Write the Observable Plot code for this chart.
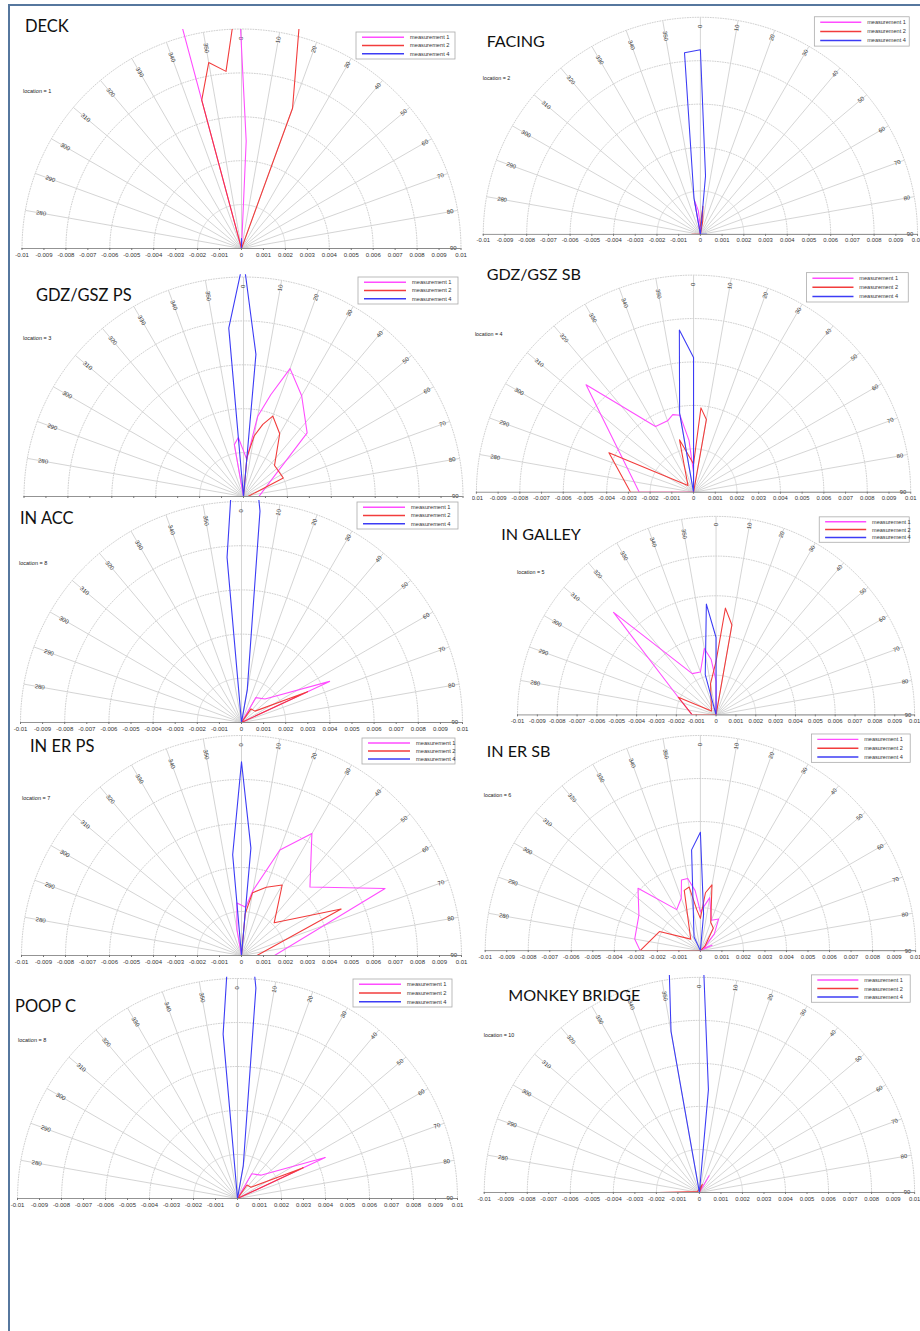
<!DOCTYPE html>
<html><head><meta charset="utf-8">
<script src="https://cdn.jsdelivr.net/npm/d3@7"></script>
<script src="https://cdn.jsdelivr.net/npm/@observablehq/plot@0.6"></script>
<style>
html,body{margin:0;padding:0;background:#fff;overflow:hidden;}
#page{position:relative;width:920px;height:1331px;overflow:hidden;background:#fff;}
.panel{position:absolute;opacity:0.999;}
.panel svg{display:block;}
.frame{position:absolute;background:#56779e;z-index:50;}
</style></head><body><div id="page"></div>
<script>
// ---------- data ----------
const series = ["measurement 1", "measurement 2", "measurement 4"];
const seriesColors = ["#ff4dff", "#f23c3c", "#3c3cf5"];
const radialAngles = [280, 290, 300, 310, 320, 330, 340, 350, 0, 10, 20, 30, 40, 50, 60, 70, 80, 90];
const ringRadii = [0.002, 0.004, 0.006, 0.008, 0.01];
const xTicks = [-0.01, -0.009, -0.008, -0.007, -0.006, -0.005, -0.004, -0.003, -0.002, -0.001, 0,
  0.001, 0.002, 0.003, 0.004, 0.005, 0.006, 0.007, 0.008, 0.009, 0.01];
const titles = ["DECK", "GDZ/GSZ PS", "IN ACC", "IN ER PS", "POOP C", "FACING", "GDZ/GSZ SB", "IN GALLEY", "IN ER SB", "MONKEY BRIDGE"];
const locations = [1, 3, 8, 7, 8, 2, 4, 5, 6, 10];

// [angle in degrees, magnitude]
const deckM1 = [[340,0],[345,0.0165],[358,0.03],[2.5,0.0049],[10,0]];
const deckM2 = [[330,0],[345,0.007],[350,0.0086],[355,0.0081],[0,0.0129],[10,0.0192],[20,0.0068],[30,0]];
const deckM4 = [[350,0],[0,0.00045],[10,0]];

const facingM1 = [[340,0],[350,0.0016],[355,0.0011],[5,0.0002],[20,0]];
const facingM2 = [[270,0.0004],[300,0],[350,0.0003],[0,0.0004],[5,0.0013],[10,0.0006],[20,0]];
const facingM4 = [[340,0],[350,0.0017],[355,0.0084],[0,0.0085],[5,0.0027],[15,0],[90,0.0003]];

const gdzPsM1 = [[340,0],[350,0.0024],[355,0.0027],[5,0.0017],[10,0.0037],[15,0.0048],[20,0.0062],[30,0.0053],[45,0.0041],[90,0.0007]];
const gdzPsM2 = [[350,0],[5,0.0018],[10,0.0028],[15,0.0034],[20,0.0039],[30,0.0033],[45,0.002],[65,0.002],[90,0.0002]];
const gdzPsM4 = [[340,0],[355,0.0077],[0,0.0108],[5,0.0065],[15,0]];

const gdzSbM1 = [[270,0],[270,0.0025],[315,0.007],[330,0.0035],[340,0.0035],[345,0.0037],[350,0.0036],[355,0.0024],[0,0.0009],[10,0]];
const gdzSbM2 = [[270,0],[270,0.0029],[295,0.0043],[320,0.0004],[345,0.0025],[0,0.0013],[5,0.0039],[10,0.0034],[20,0]];
const gdzSbM4 = [[340,0],[350,0.0037],[355,0.0075],[0,0.0062],[10,0]];

const loc8M1 = [[20,0],[30,0.0013],[45,0.0015],[65,0.0044],[75,0]];
const loc8M2 = [[20,0],[35,0.00075],[50,0.0008],[65,0.0033],[75,0]];
const loc8M4 = [[345,0],[355,0.0075],[0,0.018],[5,0.0096],[10,0.0015],[20,0]];

const galleyM1 = [[270,0.0012],[295,0.0021],[315,0.0073],[330,0.0024],[340,0.0023],[350,0.0034],[355,0.0028],[0,0.0017],[10,0]];
const galleyM2 = [[270,0],[270,0.0012],[295,0.0021],[310,0.0003],[350,0.0016],[0,0.0027],[5,0.0054],[10,0.0046],[20,0]];
const galleyM4 = [[335,0],[345,0.0021],[355,0.0056],[0,0.0039],[10,0]];

const erPsM1 = [[340,0],[350,0.0012],[355,0.0024],[5,0.0022],[10,0.003],[20,0.0051],[30,0.0064],[45,0.0044],[65,0.0072],[90,0.0015]];
const erPsM2 = [[350,0],[5,0.0019],[10,0.0029],[20,0.0033],[30,0.0037],[45,0.0021],[65,0.005],[90,0.0007]];
const erPsM4 = [[345,0],[355,0.0046],[0,0.0088],[5,0.0049],[15,0]];

const erSbM1 = [[270,0.0028],[280,0.0031],[300,0.0033],[315,0.0041],[330,0.0022],[340,0.0026],[345,0.0034],[350,0.0034],[355,0.0028],[0,0.0018],[10,0.0025],[20,0.0015],[30,0.0017],[40,0.001],[55,0.0002],[65,0.0006],[80,0]];
const erSbM2 = [[270,0],[270,0.0028],[295,0.0021],[320,0.0007],[345,0.0029],[350,0.003],[355,0.0019],[0,0.0015],[5,0.0027],[10,0.0031],[20,0.0014],[30,0.0012],[45,0.0003],[60,0]];
const erSbM4 = [[320,0],[335,0.0007],[355,0.0047],[0,0.0055],[5,0.0017],[15,0]];

const monkeyM1 = [[20,0],[30,0.0009],[40,0]];
const monkeyM2 = [[270,0],[270,0.0019],[300,0.0001],[20,0.0004],[35,0]];
const monkeyM4 = [[340,0],[350,0.0076],[355,0.019],[0,0.0154],[5,0.0048],[15,0]];

const panelSeries = [
  [deckM1, deckM2, deckM4],
  [gdzPsM1, gdzPsM2, gdzPsM4],
  [loc8M1, loc8M2, loc8M4],
  [erPsM1, erPsM2, erPsM4],
  [loc8M1, loc8M2, loc8M4],
  [facingM1, facingM2, facingM4],
  [gdzSbM1, gdzSbM2, gdzSbM4],
  [galleyM1, galleyM2, galleyM4],
  [erSbM1, erSbM2, erSbM4],
  [monkeyM1, monkeyM2, monkeyM4]
];

// ---------- layout (page pixels) ----------
// [left, top, width, height, centerX, baselineY, pxPerUnit, yTop]
const layout = [
  [10, 6, 460, 258, 241, 248, 21950, 0.00998],
  [10, 263, 460, 250, 243, 496, 21950, 0.0101],
  [10, 499, 460, 237, 241, 722, 22100, 0.01005],
  [10, 733, 460, 236, 241, 955, 22000, 0.01004],
  [10, 969, 460, 245, 237, 1198, 22000, 0.01006],
  [472, 6, 458, 250, 705, 239, 22200, 0.0101],
  [472, 257, 458, 254, 698, 497, 22200, 0.0101],
  [472, 510, 458, 224, 721, 719, 20300, 0.0101],
  [472, 733, 458, 234, 705, 955, 22000, 0.01006],
  [472, 969, 458, 245, 704, 1197, 22000, 0.01009]
];
const titlePos = [[25,32],[36,301],[20,524],[30,752],[15,1012],[487,48],[487,281],[502,541],[487,758],[509,1002]];
const locPos = [[23,93],[23,340],[19,565],[22,800],[18,1042],[483,82],[475,338],[518,575],[484,798],[484,1039]];
const legendBox = [[356,32,455,59],[358,277,458,304],[357,502,458,529],[362,738,455,764],[353,979,452,1007],
  [822,17,919,47],[814,273,918,303],[827,517,919,543],[819,734,920,763],[819,975,920,1003]];

const rad = a => a * Math.PI / 180;
const px = (r, a) => r * Math.sin(rad(a));
const py = (r, a) => r * Math.cos(rad(a));

const arcRows = [];
for (const r of ringRadii) for (let a = -90; a <= 90; a += 2) arcRows.push({r, x: px(r, a), y: py(r, a)});
const innerArc = arcRows.filter(d => d.r === ringRadii[0]);
const outerArcs = arcRows.filter(d => d.r !== ringRadii[0]);

const pageEl = document.getElementById("page");
const fmt = d => String(Math.round(d * 1000) / 1000);
const labelFont = "'Liberation Sans', Arial, sans-serif";

panelSeries.forEach((ser, i) => {
  const [L, T, W, H, cx, by, k, ytop] = layout[i];
  const rows = [];
  ser.forEach((pts, s) => pts.forEach(([a, r]) => rows.push({series: series[s], x: px(r, a), y: py(r, a)})));
  const ml = cx - 0.01 * k - L;
  const mr = (L + W) - (cx + 0.01 * k);
  const mt = by - ytop * k - T;
  const mb = T + H - by;
  const svg = Plot.plot({
    width: W, height: H,
    marginLeft: ml, marginRight: mr, marginTop: mt, marginBottom: mb,
    x: {domain: [-0.01, 0.01], axis: null},
    y: {domain: [0, ytop], axis: null},
    color: {domain: series, range: seriesColors},
    style: {background: "#fff", fontFamily: labelFont, overflow: "hidden"},
    marks: [
      Plot.line(innerArc, {x: "x", y: "y", z: "r", stroke: "#d6d6d6", strokeWidth: 0.8}),
      Plot.line(outerArcs, {x: "x", y: "y", z: "r", stroke: "#c4c4c4", strokeWidth: 0.8, strokeDasharray: "1,1.6"}),
      Plot.link(radialAngles, {x1: () => 0, y1: () => 0, x2: a => px(0.01, a), y2: a => py(0.01, a), stroke: "#cfcfcf", strokeWidth: 0.9}),
      Plot.text(radialAngles, {x: a => px(0.0095, a), y: a => py(0.0095, a), text: a => String(a),
        rotate: a => a >= 270 ? a - 270 : a - 90, textAnchor: "start", lineAnchor: "middle", fontSize: 6, fill: "#333"}),
      Plot.ruleY([0], {stroke: "#777", strokeWidth: 0.8}),
      Plot.axisX(xTicks, {anchor: "bottom", tickFormat: fmt, fontSize: 6, tickSize: 2, tickPadding: 2, label: null, stroke: "#777", fill: "#333"}),
      Plot.line(rows, {x: "x", y: "y", z: "series", stroke: "series", strokeWidth: 1.1, clip: true})
    ]
  });
  const g = d3.select(svg).append("g").attr("text-anchor", "start");
  g.append("text").attr("x", titlePos[i][0] - L).attr("y", titlePos[i][1] - T)
    .attr("text-anchor", "start")
    .attr("font-family", "Lato, 'Open Sans', sans-serif").attr("font-size", 16.5).attr("fill", "#111")
    .text(titles[i]);
  g.append("text").attr("x", locPos[i][0] - L).attr("y", locPos[i][1] - T)
    .attr("text-anchor", "start")
    .attr("font-family", labelFont).attr("font-size", 5.5).attr("fill", "#222")
    .text("location = " + locations[i]);
  const [x0, y0, x1, y1] = legendBox[i];
  const lg = g.append("g").attr("transform", `translate(${x0 - L},${y0 - T})`);
  const bw = x1 - x0, bh = y1 - y0;
  lg.append("rect").attr("width", bw).attr("height", bh).attr("fill", "#fff").attr("stroke", "#aaa").attr("stroke-width", 0.8);
  series.forEach((name, s) => {
    const yy = bh * (0.19 + 0.31 * s);
    lg.append("line").attr("x1", 6).attr("x2", 48).attr("y1", yy).attr("y2", yy)
      .attr("stroke", seriesColors[s]).attr("stroke-width", 1.5);
    lg.append("text").attr("x", 54).attr("y", yy).attr("dy", "0.35em").attr("text-anchor", "start")
      .attr("font-family", labelFont).attr("font-size", 5.7).attr("fill", "#333").text(name);
  });
  const div = document.createElement("div");
  div.className = "panel";
  div.style.left = L + "px";
  div.style.top = T + "px";
  div.style.zIndex = String(i < 5 ? i + 1 : i - 4);
  div.appendChild(svg);
  pageEl.appendChild(div);
});

const frameTop = document.createElement("div");
frameTop.className = "frame";
Object.assign(frameTop.style, {left: "8px", top: "4px", width: "912px", height: "1.5px"});
const frameLeft = document.createElement("div");
frameLeft.className = "frame";
Object.assign(frameLeft.style, {left: "8px", top: "4px", width: "1.5px", height: "1327px"});
pageEl.appendChild(frameTop);
pageEl.appendChild(frameLeft);
</script>
</body></html>
